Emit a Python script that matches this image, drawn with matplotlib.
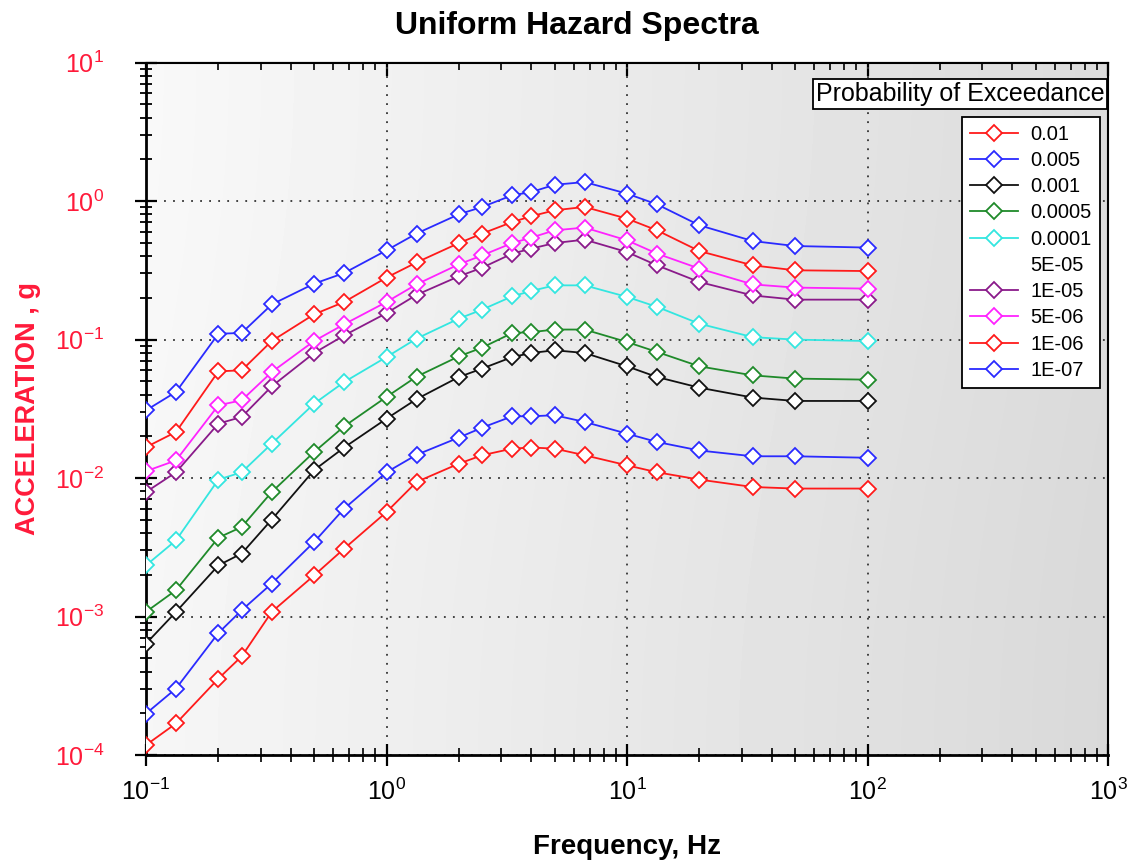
import numpy as np
import matplotlib
matplotlib.use("Agg")
import matplotlib.pyplot as plt
from matplotlib.lines import Line2D

plt.rcParams['font.family'] = ['Liberation Sans', 'DejaVu Sans']
plt.rcParams['mathtext.fontset'] = 'custom'
plt.rcParams['mathtext.rm'] = 'Liberation Sans'
plt.rcParams['mathtext.it'] = 'Liberation Sans:italic'
plt.rcParams['mathtext.bf'] = 'Liberation Sans:bold'

# frequencies (Hz) shared by every curve
freq = [0.1, 0.1333, 0.2, 0.25, 0.3333, 0.5, 0.6667, 1.0, 1.333, 2.0, 2.5,
        3.333, 4.0, 5.0, 6.667, 10.0, 13.33, 20.0, 33.33, 50.0, 100.0]

# spectral acceleration (g) per probability of exceedance
acc_1e_2 = [0.000118, 0.000169, 0.000356, 0.000516, 0.00108, 0.00198, 0.00309,
            0.00568, 0.00936, 0.0127, 0.0146, 0.0163, 0.0166, 0.0163, 0.0146,
            0.01235, 0.0110, 0.00974, 0.00861, 0.00839, 0.00839]
acc_5e_3 = [0.000199, 0.000302, 0.00076, 0.00111, 0.00173, 0.00345, 0.00601,
            0.0110, 0.0147, 0.0196, 0.0231, 0.0279, 0.0279, 0.0284, 0.0254,
            0.0209, 0.0182, 0.0158, 0.01435, 0.01435, 0.0140]
acc_1e_3 = [0.000637, 0.00108, 0.00234, 0.00285, 0.00501, 0.0114, 0.0166,
            0.0268, 0.0371, 0.0536, 0.0617, 0.0747, 0.0799, 0.0836, 0.0799,
            0.0640, 0.0536, 0.0449, 0.0381, 0.0360, 0.0360]
acc_5e_4 = [0.00108, 0.00155, 0.00371, 0.00443, 0.00792, 0.0154, 0.0236,
            0.0385, 0.0539, 0.0756, 0.0874, 0.1114, 0.113, 0.118, 0.118,
            0.0959, 0.0813, 0.0640, 0.0551, 0.0522, 0.0513]
acc_1e_4 = [0.00234, 0.00355, 0.00974, 0.0110, 0.0177, 0.0344, 0.0493,
            0.0747, 0.1015, 0.1416, 0.1644, 0.205, 0.224, 0.246, 0.246,
            0.203, 0.172, 0.130, 0.104, 0.0998, 0.0975]
acc_1e_5 = [0.00792, 0.0110, 0.0247, 0.0276, 0.0459, 0.0799, 0.107,
            0.155, 0.210, 0.286, 0.330, 0.417, 0.453, 0.497, 0.526,
            0.428, 0.343, 0.260, 0.208, 0.194, 0.194]
acc_5e_6 = [0.0112, 0.0134, 0.0335, 0.0364, 0.0582, 0.0975, 0.1288,
            0.1866, 0.250, 0.349, 0.405, 0.497, 0.544, 0.614, 0.643,
            0.520, 0.417, 0.325, 0.250, 0.237, 0.233]
acc_1e_6 = [0.0167, 0.0215, 0.0589, 0.0599, 0.0975, 0.152, 0.1866,
            0.280, 0.360, 0.497, 0.582, 0.705, 0.776, 0.857, 0.906,
            0.746, 0.614, 0.435, 0.343, 0.316, 0.312]
acc_1e_7 = [0.0308, 0.0418, 0.110, 0.1115, 0.179, 0.253, 0.302,
            0.440, 0.582, 0.802, 0.906, 1.10, 1.16, 1.31, 1.37,
            1.13, 0.946, 0.668, 0.514, 0.473, 0.461]

labels = ['0.01', '0.005', '0.001', '0.0005', '0.0001', '5E-05',
          '1E-05', '5E-06', '1E-06', '1E-07']
series = [acc_1e_2, acc_5e_3, acc_1e_3, acc_5e_4, acc_1e_4, None,
          acc_1e_5, acc_5e_6, acc_1e_6, acc_1e_7]
colors = ['#ff1a1a', '#2a2aff', '#111111', '#1f8a2a', '#33e6e0', 'none',
          '#8a1a8a', '#ff22ff', '#ff1a1a', '#2a2aff']

fig = plt.figure(figsize=(11.31, 8.65), dpi=100)
fig.patch.set_facecolor('white')
ax = fig.add_axes([146 / 1131, 110 / 865, 962 / 1131, 692.5 / 865])
ax.set_xscale('log')
ax.set_yscale('log')
ax.set_xlim(0.1, 1000)
ax.set_ylim(1e-4, 10)

# light-to-grey background shading like the original
grad = np.linspace(0.975, 0.86, 256).reshape(1, -1)
grad = np.vstack([grad, grad - 0.01])
ax.imshow(grad, cmap='gray', vmin=0, vmax=1, aspect='auto',
          extent=[0, 1, 0, 1], transform=ax.transAxes, zorder=0,
          interpolation='bicubic')

ax.grid(which='major', linestyle=(0, (1, 4)), color='#333333', lw=1.3, zorder=1)

handles = []
for lab, ys, c in zip(labels, series, colors):
    if ys is None:
        handles.append(Line2D([], [], color='none', label=lab))
        continue
    h, = ax.plot(freq, ys, color=c, lw=1.3, marker='D', markersize=8.5,
                 markerfacecolor='white', markeredgecolor=c, markeredgewidth=1.3,
                 label=lab, zorder=3)
    handles.append(h)

leg = ax.legend(handles=handles, loc='upper left', bbox_to_anchor=(0.848, 0.922),
                borderaxespad=0, fontsize=14.5, frameon=True, fancybox=False,
                handlelength=2.4, handletextpad=0.6, labelspacing=0.36,
                borderpad=0.4)
leg.get_frame().set_edgecolor('black')
leg.get_frame().set_linewidth(1.3)
leg.get_frame().set_facecolor('white')
leg.get_frame().set_alpha(1)

ax.text(0.996, 0.954, 'Probability of Exceedance', transform=ax.transAxes,
        ha='right', va='center', fontsize=18, zorder=5,
        bbox=dict(boxstyle='square,pad=0.12', facecolor='white',
                  edgecolor='black', lw=1.3))

for s in ax.spines.values():
    s.set_linewidth(1.5)
ax.spines['left'].set_linewidth(2)
ax.spines['bottom'].set_linewidth(2)

ax.tick_params(axis='y', which='major', direction='inout', length=16, width=1.6,
               labelsize=18, labelcolor='#ff1a3a', pad=22)
ax.tick_params(axis='y', which='minor', direction='inout', length=8, width=1.3)
ax.tick_params(axis='x', which='major', direction='inout', length=16, width=1.6,
               labelsize=18, pad=9)
ax.tick_params(axis='x', which='minor', direction='inout', length=10, width=1.2)

top = ax.secondary_xaxis('top')
top.tick_params(which='major', direction='in', length=10, width=1.6, labeltop=False)
top.tick_params(which='minor', direction='in', length=6, width=1.2)
top.set_xticklabels([])

ax.set_xlabel('Frequency, Hz', fontsize=20, fontweight='bold', labelpad=21)
ax.set_ylabel('ACCELERATION , g', fontsize=19.5, fontweight='bold',
              color='#ff1a3a', labelpad=10)
fig.text(0.51, 0.970, 'Uniform Hazard Spectra', ha='center', va='center',
         fontsize=23, fontweight='bold')

fig.savefig('out.png', dpi=100)
